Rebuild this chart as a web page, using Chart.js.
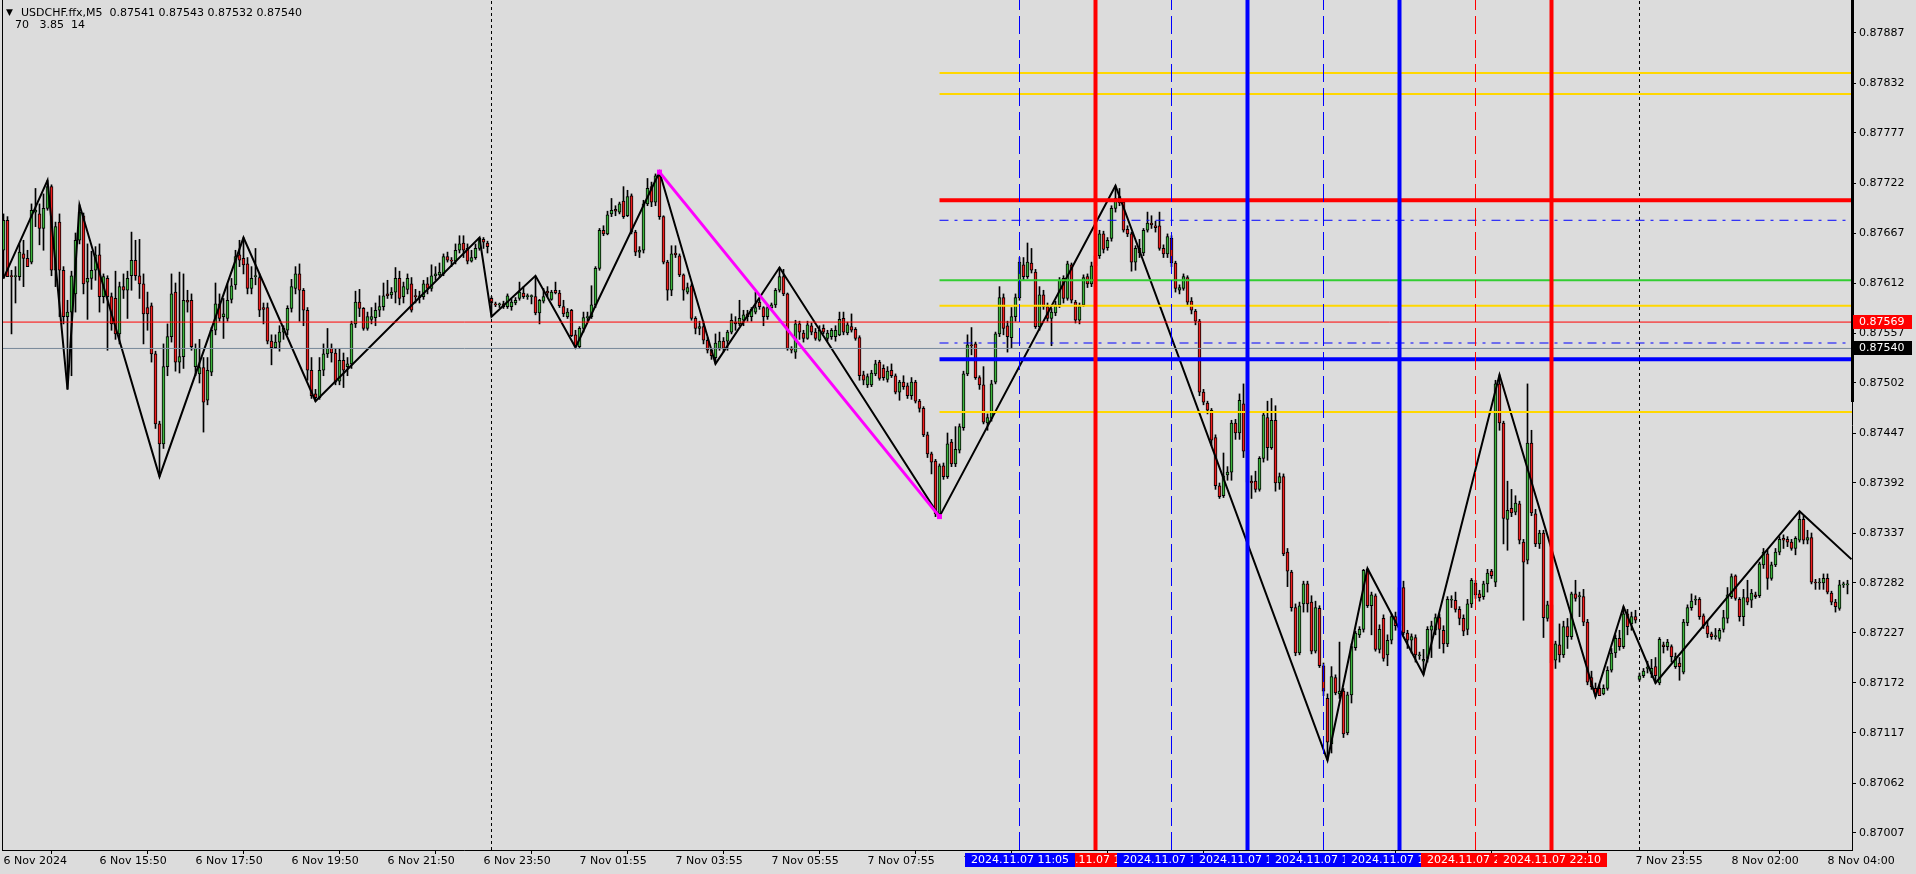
<!DOCTYPE html>
<html>
<head>
<meta charset="utf-8">
<script src="https://cdn.jsdelivr.net/npm/chart.js@4.4.1/dist/chart.umd.min.js"></script>
<style>
  html, body { margin: 0; padding: 0; background: #dcdcdc; overflow: hidden; }
  #wrap { position: relative; width: 1916px; height: 874px; }
  #chart { position: absolute; left: 0; top: 0; }
  .hdr { position: absolute; font: 11px "DejaVu Sans", sans-serif; line-height: 13px; color: #000; white-space: pre; }
</style>
</head>
<body>
<div id="wrap">
  <canvas id="chart" width="1916" height="874"></canvas>
  <div class="hdr" style="left:6px;top:6px;font-size:9px">▼</div>
  <div class="hdr" style="left:21px;top:6px">USDCHF.ffx,M5  0.87541 0.87543 0.87532 0.87540</div>
  <div class="hdr" style="left:15px;top:18px">70   3.85  14</div>
</div>
<script>
// -- USDCHF M5, prices in points above 0.87000 (1 point = 0.00001) --
const BASE = 0.87;

const opens = [
  648,681,620,619,619,644,639,635,690,688, 672,694,718,626,679,626,575,580,600,659,
  686,613,617,626,643,597,617,597,595,556, 608,604,620,637,620,611,585,587,534,457,
  435,520,553,602,525,531,593,593,520,512, 519,483,514,560,589,575,573,594,610,643,
  639,633,606,619,618,585,585,548,541,547, 558,560,584,606,622,604,582,516,490,486,
  516,534,540,535,504,527,520,523,567,591, 584,562,572,574,582,586,600,599,602,617,
  597,605,611,598,596,597,611,606,620,621, 622,641,637,636,648,656,650,636,640,650,
  660,656,
  595,589,588,589,586,586,590,595,601,597, 597,597,579,592,603,594,604,601,586,575,
  582,555,542,562,574,575,588,628,670,666, 688,693,690,702,686,708,668,646,648,699,
  718,701,730,685,635,604,645,642,621,602, 609,573,562,564,549,538,530,540,548,548,
  558,569,567,571,578,575,580,591,585,575, 585,588,604,619,600,540,536,567,557,551,
  565,558,549,
  562,551,553,553,555,573,557,564,561,552, 511,500,500,512,525,518,506,516,510,492,
  503,499,488,503,482,474,445,424,416,358, 411,399,437,413,428,453,512,544,545,508,
  500,458,463,503,556,596,565,552,575,596,
  632,619,634,624,564,599,586,573,579,588, 617,595,632,591,571,588,619,611,631,642,
  666,651,661,694,707,701,671,666,635,650, 645,670,678,675,675,650,644,661,634,604,
  606,618,592,581,570,492,480,
  472,442,389,378,401,404,458,447,479,428, 394,394,385,419,464,431,461,392,399,316,
  294,255,205,259,281,261,207,254,191,155, 105,178,160,163,117,159,211,225,231,297,
  257,268,209,243,203,219,245,235,277,227, 219,222,202,196,199,230,230,244,230,215,
  263,263,253,243,231,259,282,270,267,281, 295,283,501,458,352,
  364,360,369,327,307,436,358,325,337,243, 258,197,214,203,234,223,270,267,267,239,
  178,166,166,160,166,186,205,221,212,248, 237,245,176,180,188,182,190,172,214,212,
  212,190,194,184,238,255,263,264,246,235, 226,223,221,231,243,
  267,290,264,245,266,263,269,268,302,314, 287,302,316,331,330,327,320,329,352,329,
  332,283,282,282,287,271,261,254,280,280
];

const highs = [
  688,685,626,630,655,659,648,699,716,699, 710,725,720,679,688,630,593,625,667,698,
  689,655,647,652,655,622,620,601,625,613, 622,625,668,659,660,622,602,590,537,460,
  545,567,622,612,624,622,604,600,545,550, 530,530,563,612,600,595,611,617,648,659,
  662,640,630,650,622,590,590,555,555,565, 565,587,616,630,633,606,585,530,495,530,
  545,562,545,540,540,535,530,570,603,605, 585,580,585,590,598,612,615,607,629,625,
  613,622,618,605,603,615,618,632,630,634, 644,646,640,655,664,664,655,648,655,662,
  662,658,
  597,591,590,592,600,594,596,613,608,600, 599,619,594,606,608,604,613,604,593,584,
  583,560,564,580,580,609,630,672,675,691, 705,697,701,718,714,710,670,652,703,727,
  723,732,734,686,637,653,653,644,622,612, 611,575,570,570,552,540,556,558,552,560,
  578,575,593,582,582,585,602,595,586,588, 590,606,629,627,601,542,571,570,560,570,
  568,562,565,
  566,560,562,565,580,580,569,578,563,554, 515,512,516,527,527,522,520,523,512,505,
  510,502,508,505,484,476,448,426,418,413, 414,447,440,454,457,515,555,563,547,510,
  520,468,505,558,608,600,570,585,600,640,
  640,656,650,627,608,604,590,584,592,618, 620,636,634,593,590,621,622,635,648,670,
  669,662,697,719,716,703,675,668,653,660, 672,690,686,680,690,654,666,664,636,610,
  622,620,596,583,572,495,482,
  474,445,392,425,410,461,462,490,501,432, 400,405,421,470,482,485,477,403,402,320,
  296,259,261,284,284,268,262,257,194,160, 190,181,217,166,162,215,229,234,297,298,
  272,270,236,247,225,248,250,283,284,230, 226,225,206,209,234,240,248,248,235,267,
  268,272,256,247,264,287,285,274,284,297, 297,505,511,460,394,
  385,378,372,330,501,450,363,340,340,262, 283,218,237,240,243,272,285,272,275,242,
  185,172,170,170,190,210,225,230,256,253, 250,252,183,188,196,198,200,222,217,220,
  214,205,200,242,258,270,268,266,248,240, 228,232,232,252,277,
  292,291,266,275,285,275,272,305,320,318, 305,320,333,335,333,330,333,361,356,340,
  337,286,287,292,292,273,264,285,283,285
];

const lows = [
  617,619,556,590,615,608,630,633,674,654, 648,692,620,608,575,567,495,510,580,655,
  600,572,605,615,580,590,538,560,550,545, 595,573,604,615,595,545,560,525,452,399,
  430,510,547,515,513,518,580,538,510,502, 448,478,510,555,570,551,570,590,605,630,
  622,600,600,610,575,567,545,522,540,537, 550,555,580,600,570,565,505,485,482,484,
  510,530,525,500,500,497,510,518,563,575, 560,560,567,565,575,582,595,595,590,588,
  590,600,580,590,590,594,600,603,615,618, 620,635,630,633,645,640,633,635,638,648,
  650,645,
  575,586,585,584,584,582,588,593,595,594, 589,577,567,590,597,593,600,585,575,573,
  553,541,540,558,570,573,585,626,664,665, 685,686,688,683,685,666,642,640,645,697,
  696,697,682,633,593,598,640,619,593,600, 571,556,555,545,535,528,523,538,536,538,
  556,560,565,565,570,570,578,583,565,572, 583,585,602,598,538,535,529,550,547,550,
  555,549,548,
  556,548,550,548,554,555,555,558,549,505, 500,497,498,510,505,505,503,508,490,483,
  495,485,484,480,470,443,420,402,355,355, 396,397,410,410,425,450,510,533,506,495,
  457,450,460,501,553,555,536,540,570,593,
  615,617,623,562,560,583,570,543,576,585, 590,593,590,568,567,586,607,608,628,639,
  645,648,658,690,697,668,663,625,626,640, 642,668,672,668,648,640,640,630,602,600,
  604,588,578,566,488,478,468,
  433,385,375,376,395,395,440,440,420,373, 375,382,383,415,417,429,383,385,312,278,
  251,202,203,250,250,204,205,189,158,87,  95,159,155,112,115,150,208,222,228,255,
  225,207,205,196,191,215,230,200,225,210, 205,195,198,181,195,200,225,210,205,212,
  255,250,236,224,225,255,265,262,264,272, 287,278,450,325,318,
  355,357,325,241,303,356,322,320,222,240, 174,188,195,200,210,220,262,245,235,170,
  165,157,158,159,164,184,200,208,210,225, 230,238,174,178,183,178,172,170,205,208,
  195,188,175,182,235,252,258,242,232,222, 220,220,218,228,238,
  265,263,240,235,258,255,265,266,298,275, 285,300,313,320,322,318,313,327,325,325,
  281,275,275,275,270,258,250,252,277,270
];

const closes = [
  681,619,619,620,646,639,630,692,692,672, 694,718,626,674,626,575,580,620,659,690,
  611,617,626,643,597,619,597,567,556,608, 604,617,637,620,611,578,578,534,457,435,
  520,553,600,525,531,593,591,542,540,519, 481,516,560,589,573,578,593,609,641,637,
  632,606,617,619,582,583,548,541,547,558, 562,584,608,622,604,582,516,488,486,516,
  534,540,535,503,527,516,523,567,591,584, 562,575,575,582,586,598,598,602,617,595,
  608,617,582,597,598,611,606,620,622,624, 641,637,636,648,655,648,636,640,650,661,
  657,652,
  590,588,588,586,598,591,593,602,597,597, 597,579,593,597,601,602,601,587,578,580,
  554,542,562,574,575,588,628,670,666,687, 692,691,699,685,707,668,646,648,699,716,
  701,730,685,635,604,644,643,621,604,607, 573,562,564,549,538,532,546,548,540,558,
  571,567,573,577,575,583,585,586,575,585, 588,604,619,600,540,538,567,558,551,566,
  558,551,560,
  558,557,560,560,572,558,566,560,551,510, 505,509,513,523,507,508,515,510,492,503,
  498,488,503,482,474,445,424,415,358,411, 399,435,413,429,454,512,544,543,508,500,
  459,464,501,556,596,562,553,575,596,635,
  619,635,626,564,599,586,573,580,588,615, 595,633,593,571,586,618,611,631,642,666,
  649,659,694,705,700,670,666,635,650,645, 670,678,676,673,650,644,663,634,606,607,
  619,591,582,570,492,481,472,
  439,389,377,400,404,458,447,483,427,393, 392,385,419,467,431,461,392,399,314,295,
  255,205,257,281,259,207,255,191,163,107, 179,161,163,116,159,212,227,231,296,257,
  269,209,231,199,219,245,235,277,227,219, 223,203,202,198,231,235,244,231,215,264,
  263,253,243,229,259,285,269,266,281,293, 290,501,458,353,362,
  359,370,329,305,436,359,325,337,244,258, 194,215,203,234,223,270,265,267,239,173,
  168,160,158,166,186,205,221,212,248,234, 245,241,180,185,188,188,180,220,212,217,
  201,201,190,239,255,262,264,245,235,226, 223,223,230,244,269,
  289,265,245,266,261,271,267,303,316,287, 302,316,330,329,327,320,331,352,329,332,
  283,282,282,287,272,261,256,280,280,281
];

// zigzag pivots: bar number and price (points)
const zigBars = [1, 12, 17, 20, 40, 61, 79, 120, 123, 134, 144, 165, 179, 195, 235, 279, 332, 342, 356, 375, 399, 406, 414, 450, 463];
const zigPts  = [617, 725, 495, 698, 399, 662, 482, 662, 575, 620, 541, 734, 523, 629, 355, 719, 87, 298, 181, 511, 157, 256, 172, 361, 308];

// magenta trendline
const trendBars = [165, 235];
const trendPrices = [0.87734, 0.87355];

// horizontal levels starting at the trendline end
const levelPrices = [0.87843, 0.87820, 0.87703, 0.87681, 0.87615, 0.87587, 0.87546, 0.87528, 0.87470];
const levelColors = ['#ffd700', '#ffd700', '#ff0000', '#0000ff', '#32cd32', '#ffd700', '#0000ff', '#0000ff', '#ffd700'];
const levelWidths = [2, 2, 4, 1, 2, 2, 1, 4, 2];
const levelDashes = [[], [], [], [9, 6, 3, 6], [], [], [9, 6, 3, 6], [], []];
const levelStartBar = 235;

// full width lines
const askPrice = 0.87569;
const bidPrice = 0.87540;

// vertical lines
const vBars = [255, 274, 293, 312, 331, 350, 369, 388];
const vTimes = ['2024.11.07 11:05', '2024.11.07 12:40', '2024.11.07 14:15', '2024.11.07 15:50',
                '2024.11.07 17:25', '2024.11.07 19:00', '2024.11.07 20:35', '2024.11.07 22:10'];
const vColors = ['#0000ff', '#ff0000', '#0000ff', '#0000ff', '#0000ff', '#0000ff', '#ff0000', '#ff0000'];
const vWidths = [1, 4, 1, 4, 1, 4, 1, 4];
const vDashes = [[18, 6], [], [18, 6], [], [18, 6], [], [18, 6], []];
const vLabelOrder = [1, 0, 2, 3, 4, 5, 6, 7];

const daySepBars = [123, 410];

const priceTicks = [0.87887, 0.87832, 0.87777, 0.87722, 0.87667, 0.87612, 0.87557, 0.87502, 0.87447,
                    0.87392, 0.87337, 0.87282, 0.87227, 0.87172, 0.87117, 0.87062, 0.87007];
const xTickBars = [1, 25, 49, 73, 97, 121, 145, 169, 193, 217, 241, 265, 289, 313, 337, 361, 385, 409, 433, 457];
const xTickText = ['6 Nov 2024', '6 Nov 15:50', '6 Nov 17:50', '6 Nov 19:50', '6 Nov 21:50', '6 Nov 23:50',
                   '7 Nov 01:55', '7 Nov 03:55', '7 Nov 05:55', '7 Nov 07:55', '7 Nov 09:55', '7 Nov 11:55',
                   '7 Nov 13:55', '7 Nov 15:55', '7 Nov 17:55', '7 Nov 19:55', '7 Nov 21:55', '7 Nov 23:55',
                   '8 Nov 02:00', '8 Nov 04:00'];

const yMin = 0.869883, yMax = 0.879233;
const xMin = 0.625, xMax = 463.125;

const FONT = { family: 'DejaVu Sans', size: 11 };
const UP = '#3cb43c', DOWN = '#f01e1e';

const px = p => +(BASE + p / 100000).toFixed(5);

const wickData = highs.map((h, i) => ({ x: i + 1, y: [px(lows[i]), px(h)] }));
const bodyData = opens.map((o, i) => ({ x: i + 1, y: [px(o), px(closes[i])] }));
const bodyColors = opens.map((o, i) => closes[i] >= o ? UP : DOWN);

const datasets = [
  { type: 'bar', data: wickData, backgroundColor: '#000', barThickness: 1, grouped: false, order: 30 },
  { type: 'bar', data: bodyData, backgroundColor: bodyColors, borderColor: '#000', borderWidth: 1,
    borderSkipped: false, barThickness: 3, minBarLength: 1, grouped: false, order: 29 },
  { type: 'line', data: zigBars.map((b, i) => ({ x: b, y: px(zigPts[i]) })),
    borderColor: '#000', borderWidth: 2, pointRadius: 0, tension: 0, order: 20 }
];

[askPrice, bidPrice].forEach((p, i) => {
  datasets.push({ type: 'line', data: [{ x: xMin, y: p }, { x: xMax, y: p }],
    borderColor: i === 0 ? '#ff0000' : '#778899', borderWidth: 1, pointRadius: 0, order: 12 });
});

levelPrices.forEach((p, i) => {
  datasets.push({ type: 'line', data: [{ x: levelStartBar, y: p }, { x: xMax, y: p }],
    borderColor: levelColors[i], borderWidth: levelWidths[i], borderDash: levelDashes[i],
    pointRadius: 0, order: 10 });
});

daySepBars.forEach(b => {
  datasets.push({ type: 'line', data: [{ x: b, y: yMin }, { x: b, y: yMax }],
    borderColor: '#000', borderWidth: 1, borderDash: [3, 3], pointRadius: 0, order: 11 });
});

vBars.forEach((b, i) => {
  datasets.push({ type: 'line', data: [{ x: b, y: yMin }, { x: b, y: yMax }],
    borderColor: vColors[i], borderWidth: vWidths[i], borderDash: vDashes[i], pointRadius: 0, order: 9 });
});

datasets.push({ type: 'line', data: trendBars.map((b, i) => ({ x: b, y: trendPrices[i] })),
  borderColor: '#ff00ff', borderWidth: 3, pointStyle: 'rect', pointRadius: 3.5,
  pointBackgroundColor: '#ff00ff', pointBorderWidth: 0, order: 1 });

const frame = {
  id: 'frame',
  beforeDraw(chart) {
    const c = chart.ctx;
    c.save();
    c.fillStyle = '#dcdcdc';
    c.fillRect(0, 0, chart.width, chart.height);
    c.restore();
  },
  afterDraw(chart) {
    const { ctx, chartArea: a, scales: { x, y } } = chart;
    ctx.save();
    ctx.fillStyle = '#000';
    ctx.fillRect(a.left, 0, 1, a.bottom);
    ctx.fillRect(a.right - 1, 0, 3, 402);

    ctx.font = '11px "DejaVu Sans"';
    ctx.textBaseline = 'middle';

    // price tags on the right scale
    [[askPrice, '#ff0000'], [bidPrice, '#000']].forEach(([p, bg]) => {
      const py = Math.round(y.getPixelForValue(p));
      ctx.fillStyle = bg;
      ctx.fillRect(a.right + 1, py - 7, 59, 14);
      ctx.fillStyle = '#fff';
      ctx.textAlign = 'left';
      ctx.fillText(p.toFixed(5), a.right + 7, py);
    });

    // time labels of the vertical lines
    vLabelOrder.forEach(i => {
      const cx = Math.round(x.getPixelForValue(vBars[i]));
      ctx.fillStyle = vColors[i];
      ctx.fillRect(cx - 55, a.bottom + 3, 110, 14);
      ctx.fillStyle = '#fff';
      ctx.textAlign = 'center';
      ctx.fillText(vTimes[i], cx, a.bottom + 10);
    });
    ctx.restore();
  }
};

new Chart(document.getElementById('chart'), {
  data: { datasets },
  options: {
    responsive: false,
    animation: false,
    devicePixelRatio: 1,
    layout: { autoPadding: false, padding: { left: 2, top: 0, right: 0, bottom: 0 } },
    plugins: { legend: { display: false }, tooltip: { enabled: false } },
    scales: {
      x: {
        type: 'linear', min: xMin, max: xMax, offset: false,
        afterBuildTicks: s => { s.ticks = xTickBars.map(v => ({ value: v })); },
        afterFit: s => { s.height = 24; s.paddingLeft = 0; s.paddingRight = 0; },
        ticks: { callback: (v, i) => xTickText[i], autoSkip: false, maxRotation: 0, align: 'start',
                 color: '#000', font: FONT, padding: 1 },
        grid: { drawOnChartArea: false, color: '#000', tickLength: 4 },
        border: { color: '#000' }
      },
      y: {
        type: 'linear', position: 'right', min: yMin, max: yMax,
        afterBuildTicks: s => { s.ticks = priceTicks.map(v => ({ value: v })); },
        afterFit: s => { s.width = 64; s.paddingTop = 0; s.paddingBottom = 0; },
        ticks: { callback: v => v.toFixed(5), autoSkip: false, color: '#000', font: FONT, padding: 3 },
        grid: { drawOnChartArea: false, color: '#000', tickLength: 4 },
        border: { color: '#000' }
      }
    }
  },
  plugins: [frame]
});
</script>
</body>
</html>
